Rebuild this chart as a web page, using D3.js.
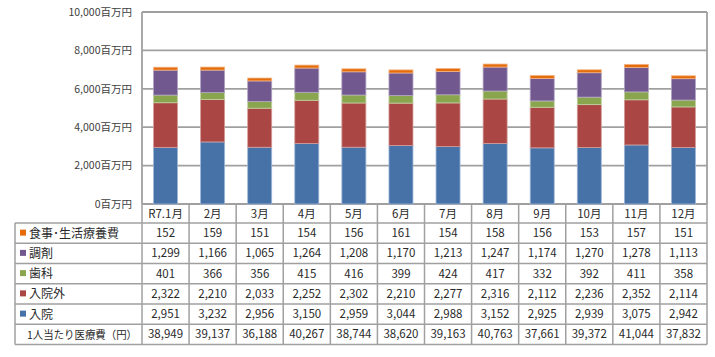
<!DOCTYPE html>
<html><head><meta charset="utf-8">
<script src="https://cdn.jsdelivr.net/npm/d3@7"></script>
<style>body{margin:0;background:#fff}svg{display:block}text{font-family:"Noto Sans CJK JP","Noto Sans",sans-serif}</style>
</head><body>
<svg id="c" width="715" height="357"></svg>
<script>
const months = ["R7.1月","2月","3月","4月","5月","6月","7月","8月","9月","10月","11月","12月"];
const meal     = [152,159,151,154,156,161,154,158,156,153,157,151];
const chouzai  = [1299,1166,1065,1264,1208,1170,1213,1247,1174,1270,1278,1113];
const shika    = [401,366,356,415,416,399,424,417,332,392,411,358];
const nyuingai = [2322,2210,2033,2252,2302,2210,2277,2316,2112,2236,2352,2114];
const nyuin    = [2951,3232,2956,3150,2959,3044,2988,3152,2925,2939,3075,2942];
const perCapita = [38949,39137,36188,40267,38744,38620,39163,40763,37661,39372,41044,37832];
const yTicks = [0,2000,4000,6000,8000,10000];
const tickSuffix = "百万円";
const perCapitaLabel = "1人当たり医療費（円）";

// stacking order bottom -> top
const seriesBottomUp = [
  {key:"入院", values:nyuin, color:"#4672a8", edge:"#9fb6d6"},
  {key:"入院外", values:nyuingai, color:"#aa4643", edge:"#d49d9b"},
  {key:"歯科", values:shika, color:"#89a54e", edge:"#c2d3a2"},
  {key:"調剤", values:chouzai, color:"#71588f", edge:"#b1a2c4"},
  {key:"食事･生活療養費", values:meal, color:"#e46c0a", edge:"#f4b585"}
];

const svg = d3.select("#c");
const L = 142, R = 707, T = 12, B = 204;
const gridColor = "#a0a0a0";
const txt = "#2a2a2a";

const x = d3.scaleBand().domain(months).range([L, R]).paddingInner(0.49).paddingOuter(0.245);
const xCol = d3.scaleBand().domain(months).range([L, R]).padding(0);
const y = d3.scaleLinear().domain([0, 10000]).range([B, T]);

// gridlines
svg.append("g").selectAll("line").data(yTicks).join("line")
  .attr("x1", L).attr("x2", R).attr("y1", d => y(d)).attr("y2", d => y(d))
  .attr("stroke", gridColor).attr("stroke-width", 1.8);

// y axis labels
const yAxis = d3.axisLeft(y).tickValues(yTicks).tickSize(0).tickPadding(10)
  .tickFormat(d => d3.format(",")(d) + tickSuffix);
const ya = svg.append("g").attr("transform", `translate(${L},0)`).call(yAxis);
ya.select(".domain").remove();
ya.selectAll("text").attr("font-size", 10.5).attr("fill", "#404040")
  .attr("font-family", '"Noto Sans CJK JP",sans-serif');

// stacked bars
const table = months.map((m, i) => {
  const o = {month: m};
  seriesBottomUp.forEach(s => o[s.key] = s.values[i]);
  return o;
});
const stack = d3.stack().keys(seriesBottomUp.map(s => s.key));
const stacked = stack(table);
svg.append("g").selectAll("g").data(stacked).join("g")
  .attr("fill", (d, i) => seriesBottomUp[i].color)
  .attr("stroke", (d, i) => seriesBottomUp[i].edge)
  .attr("stroke-width", 0.8)
  .selectAll("rect").data(d => d).join("rect")
  .attr("x", d => x(d.data.month))
  .attr("width", x.bandwidth())
  .attr("y", d => y(d[1]))
  .attr("height", d => y(d[0]) - y(d[1]));

// plot border (left, right)
svg.append("line").attr("x1", L).attr("x2", L).attr("y1", T).attr("y2", B).attr("stroke", gridColor).attr("stroke-width", 1.8);
svg.append("line").attr("x1", R).attr("x2", R).attr("y1", T).attr("y2", B).attr("stroke", gridColor).attr("stroke-width", 1.8);

// data table
const headerTop = B, headerBot = 223, tableBot = 344.5, labelLeft = 15;
const rowsTopDown = seriesBottomUp.slice().reverse();
const rowCount = rowsTopDown.length + 1;
const rowY = d3.scaleLinear().domain([0, rowCount]).range([headerBot, tableBot]);
const g = svg.append("g");
const lineAttr = sel => sel.attr("stroke", gridColor).attr("stroke-width", 1.5);

// horizontal lines
d3.range(rowCount + 1).forEach(i => {
  g.append("line").attr("x1", labelLeft).attr("x2", R).attr("y1", rowY(i)).attr("y2", rowY(i)).call(lineAttr);
});
// vertical lines
g.append("line").attr("x1", labelLeft).attr("x2", labelLeft).attr("y1", headerBot).attr("y2", tableBot).call(lineAttr);
months.forEach(m => {
  g.append("line").attr("x1", xCol(m)).attr("x2", xCol(m)).attr("y1", headerTop).attr("y2", tableBot).call(lineAttr);
});
g.append("line").attr("x1", R).attr("x2", R).attr("y1", headerTop).attr("y2", tableBot).call(lineAttr);

const fs = 11.5;
// header
g.selectAll("text.h").data(months).join("text").attr("class", "h")
  .attr("x", d => xCol(d) + xCol.bandwidth() / 2).attr("y", (headerTop + headerBot) / 2 + 4)
  .attr("text-anchor", "middle").attr("font-size", fs).attr("fill", txt).text(d => d);

// series rows
rowsTopDown.forEach((s, r) => {
  const cy = (rowY(r) + rowY(r + 1)) / 2;
  g.append("rect").attr("x", 20).attr("y", cy - 3.5).attr("width", 6).attr("height", 6).attr("fill", s.color);
  g.append("text").attr("x", 29).attr("y", cy + 4.5).attr("font-size", 12).attr("fill", txt).text(s.key);
  g.selectAll(null).data(s.values).join("text")
    .attr("x", (d, i) => xCol(months[i]) + xCol.bandwidth() / 2).attr("y", cy + 4)
    .attr("text-anchor", "middle").attr("font-size", fs).attr("fill", txt)
    .text(d => d3.format(",")(d));
});
// per capita row
{
  const r = rowsTopDown.length;
  const cy = (rowY(r) + rowY(r + 1)) / 2;
  g.append("text").attr("x", 27).attr("y", cy + 4.5).attr("font-size", 11).attr("fill", txt)
    .attr("textLength", 110).attr("lengthAdjust", "spacingAndGlyphs").text(perCapitaLabel);
  g.selectAll(null).data(perCapita).join("text")
    .attr("x", (d, i) => xCol(months[i]) + xCol.bandwidth() / 2).attr("y", cy + 4)
    .attr("text-anchor", "middle").attr("font-size", fs).attr("fill", txt)
    .text(d => d3.format(",")(d));
}
</script>
</body></html>
